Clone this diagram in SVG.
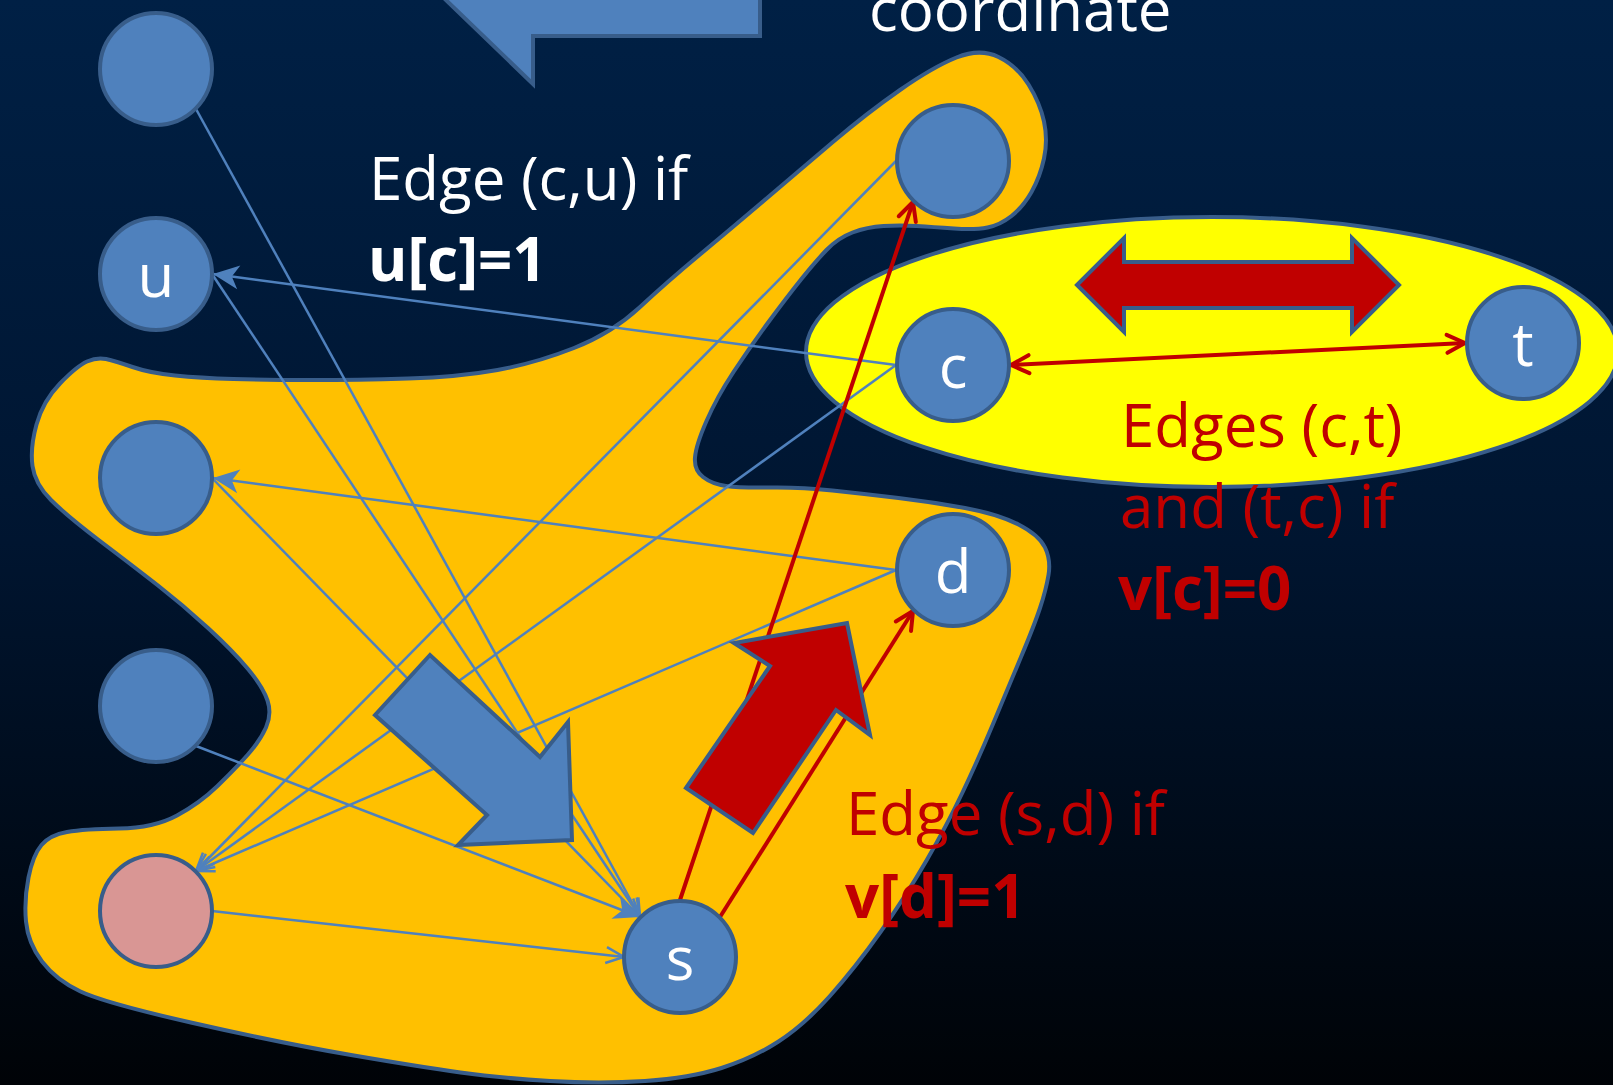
<svg xmlns="http://www.w3.org/2000/svg" width="1613" height="1085" viewBox="0 0 1613 1085">
<style>
.node{fill:#4F81BD;stroke:#385D8A;stroke-width:4}
.pink{fill:#D99694}
.lbl{font-family:"Open Sans","Liberation Sans",sans-serif;font-size:60px;fill:#FFFFFF;text-anchor:middle}
.t{font-family:"Open Sans","Liberation Sans",sans-serif;font-size:60px}
.w{fill:#FFFFFF}
.r{fill:#C00000}
.b{font-weight:bold}
.eb{stroke:#4F81BD;stroke-width:2.5;fill:none}
.er{stroke:#C00000;stroke-width:4;fill:none}
.blk{stroke:#385D8A;stroke-width:4;stroke-linejoin:miter}
</style>
<defs>
<linearGradient id="bg" x1="0" y1="0" x2="0" y2="1">
<stop offset="0" stop-color="#002045"/>
<stop offset="0.5" stop-color="#001530"/>
<stop offset="1" stop-color="#000307"/>
</linearGradient>
<marker id="openB" markerUnits="userSpaceOnUse" viewBox="-21 -12 23 24" refX="0" refY="0" markerWidth="23" markerHeight="24" orient="auto">
<path d="M-18,-8 L0,0 L-18,8" fill="none" stroke="#4F81BD" stroke-width="2.5"/>
</marker>
<marker id="stealthB" markerUnits="userSpaceOnUse" viewBox="-29 -15 31 30" refX="0" refY="0" markerWidth="31" markerHeight="30" orient="auto">
<path d="M0,0 L-26,-12 L-19,0 L-26,12 Z" fill="#4F81BD"/>
</marker>
<marker id="openR" markerUnits="userSpaceOnUse" viewBox="-23 -13 26 26" refX="0" refY="0" markerWidth="26" markerHeight="26" orient="auto-start-reverse">
<path d="M-18,-9 L0,0 L-18,9" fill="none" stroke="#C00000" stroke-width="4" stroke-linecap="round" stroke-linejoin="round"/>
</marker>
</defs>
<rect x="0" y="0" width="1613" height="1085" fill="url(#bg)"/>
<g id="regions">
<path id="orange-region" fill="#FFC000" stroke="#385D8A" stroke-width="4" d="M956.5,57.5 Q980,48 998.5,57 Q1017,66 1028.5,84.5 Q1040,103 1044,121.5 Q1048,140 1044,158.5 Q1040,177 1031.5,192 Q1023,207 1011.5,216 Q1000,225 987.5,227.5 Q975,230 954,228.5 Q933,227 916.5,226 Q900,225 883.5,226 Q867,227 852.5,232.5 Q838,238 826.5,250 Q815,262 801,279.5 Q787,297 768.5,322 Q750,347 733.5,372 Q717,397 706.5,421 Q696,445 695,457.5 Q694,470 703,477 Q712,484 726,486 Q740,488 770,487.5 Q800,487 832.5,490.5 Q865,494 898.5,498 Q932,502 965,508 Q998,514 1018.5,524.5 Q1039,535 1045,547.5 Q1051,560 1048.5,575 Q1046,590 1040,608 Q1034,626 1021,657 Q1008,688 993,724 Q978,760 962.5,792.5 Q947,825 926.5,860.5 Q906,896 880.5,932 Q855,968 829.5,996.5 Q804,1025 778.5,1041.5 Q753,1058 721.5,1068 Q690,1078 645,1081 Q600,1084 550,1081 Q500,1078 460.5,1072.5 Q421,1067 351,1055 Q281,1043 193,1023 Q105,1003 80.5,991.5 Q56,980 42,961.5 Q28,943 26,921.5 Q24,900 28.5,877.5 Q33,855 41.5,845 Q50,835 67,832 Q84,829 119,828.5 Q154,828 177,815.5 Q200,803 217.5,786 Q235,769 247.5,755 Q260,741 266,727.5 Q272,714 267.5,700.5 Q263,687 248,669 Q233,651 208,628 Q183,605 158,585.5 Q133,566 100,541 Q67,516 51,500 Q35,484 32.5,466 Q30,448 36.5,424.5 Q43,401 60,383.5 Q77,366 87,361.5 Q97,357 106,359 Q115,361 132.5,367 Q150,373 175,375.5 Q200,378 233.5,379 Q267,380 312,380 Q357,380 408,378.5 Q459,377 497.5,370 Q536,363 574,348 Q612,333 639.5,307.5 Q667,282 700,254.5 Q733,227 766.5,198.5 Q800,170 833.5,141.5 Q867,113 900,90 Q933,67 956.5,57.5 Z"/>
<ellipse id="yellow-region" cx="1212" cy="352" rx="406" ry="135" fill="#FFFF00" stroke="#385D8A" stroke-width="4"/>
</g>
<g id="connectors">
<line class="eb" x1="196" y1="109" x2="640" y2="917" marker-end="url(#openB)"/>
<line class="eb" x1="212" y1="274" x2="640" y2="917" marker-end="url(#openB)"/>
<line class="eb" x1="212" y1="478" x2="640" y2="917" marker-end="url(#openB)"/>
<line class="eb" x1="196" y1="746" x2="640" y2="917" marker-end="url(#stealthB)"/>
<line class="eb" x1="212" y1="911" x2="624" y2="957" marker-end="url(#openB)"/>
<line class="eb" x1="896" y1="161" x2="196" y2="871" marker-end="url(#openB)"/>
<line class="eb" x1="896" y1="365" x2="196" y2="871" marker-end="url(#openB)"/>
<line class="eb" x1="896" y1="570" x2="196" y2="871" marker-end="url(#openB)"/>
<line class="eb" x1="896" y1="365" x2="213" y2="274" marker-end="url(#stealthB)"/>
<line class="eb" x1="896" y1="570" x2="213" y2="478" marker-end="url(#stealthB)"/>
<line class="er" x1="680" y1="900" x2="913" y2="202" marker-end="url(#openR)"/>
<line class="er" x1="720" y1="917" x2="913" y2="611" marker-end="url(#openR)"/>
<line class="er" x1="1011" y1="365" x2="1465" y2="343" marker-start="url(#openR)" marker-end="url(#openR)"/>
</g>
<g id="block-arrows">
<polygon id="arrow-top" class="blk" fill="#4F81BD" points="420,-25 533,84 533,36 760,36 760,-80 420,-80"/>
<polygon id="arrow-blue" class="blk" fill="#4F81BD" points="375,715 430,655 540,757 568,722 572,840 458,845 487,815"/>
<polygon id="arrow-red" class="blk" fill="#C00000" points="686,788 770,666 734,643 847,623 870,735 836,710 753,833"/>
<polygon id="arrow-double" class="blk" fill="#C00000" points="1077,285 1124,238 1124,262 1352,262 1352,238 1399,285 1352,332 1352,308 1124,308 1124,332"/>
</g>
<g id="node-a"><circle class="node" cx="156" cy="69" r="56"/></g>
<g id="node-u"><circle class="node" cx="156" cy="274" r="56"/><text class="lbl" x="156" y="297">u</text></g>
<g id="node-m"><circle class="node" cx="156" cy="478" r="56"/></g>
<g id="node-l"><circle class="node" cx="156" cy="706" r="56"/></g>
<g id="node-p"><circle class="node pink" cx="156" cy="911" r="56"/></g>
<g id="node-s"><circle class="node" cx="680" cy="957" r="56"/><text class="lbl" x="680" y="980">s</text></g>
<g id="node-d"><circle class="node" cx="953" cy="570" r="56"/><text class="lbl" x="953" y="593">d</text></g>
<g id="node-top"><circle class="node" cx="953" cy="161" r="56"/></g>
<g id="node-c"><circle class="node" cx="953" cy="365" r="56"/><text class="lbl" x="953" y="388">c</text></g>
<g id="node-t"><circle class="node" cx="1523" cy="343" r="56"/><text class="lbl" x="1523" y="366">t</text></g>
<g id="texts">
<text class="t w" x="869" y="31">coordinate</text>
<text class="t w" x="369" y="200">Edge (c,u) if</text>
<text class="t w b" x="368" y="281">u[c]=1</text>
<text class="t r" x="1121" y="447">Edges (c,t)</text>
<text class="t r" x="1120" y="528">and (t,c) if</text>
<text class="t r b" x="1118" y="610">v[c]=0</text>
<text class="t r" x="846" y="835">Edge (s,d) if</text>
<text class="t r b" x="845" y="918">v[d]=1</text>
</g>
</svg>
